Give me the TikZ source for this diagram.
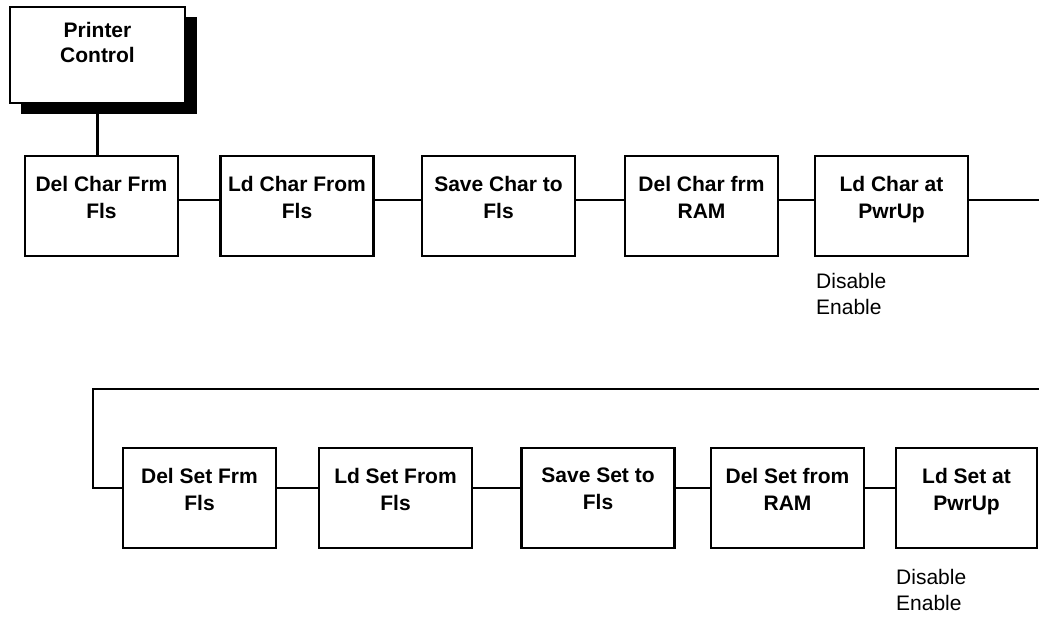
\documentclass[tikz,border=0pt]{standalone}
\usepackage{fontspec}
\setmainfont{Liberation Sans}
\begin{document}
\begin{tikzpicture}[x=1pt,y=-1pt,
  box/.style={draw=black,line width=2.8pt,fill=white,inner sep=0pt,minimum width=153pt,minimum height=100pt},
  boxtext/.style={anchor=north,inner sep=0pt,align=center,font=\fontsize{21}{27}\selectfont\bfseries},
  opttext/.style={anchor=north west,inner sep=0pt,align=left,font=\fontsize{21}{26}\selectfont},
  conn/.style={draw=black,line width=2.8pt}]
\useasboundingbox (0,0) rectangle (1039,616);
% Printer Control with shadow
\fill[black] (21,17) rectangle (197,114);
\node[box,minimum width=175pt,minimum height=96pt] (pc) at (97.5,55) {};
\node[boxtext,font=\fontsize{21}{25}\selectfont\bfseries] (pct) at (97.5,22) {Printer\\Control};
% Row 1
\node[box] (a1) at (101.5,206) {};
\node[box] (a2) at (297,206) {};
\node[box] (a3) at (498.5,206) {};
\node[box] (a4) at (701.5,206) {};
\node[box] (a5) at (891.5,206) {};
\node[boxtext] (a1t) at (a1.center |- 0,176) {Del Char Frm\\Fls};
\node[boxtext] (a2t) at (a2.center |- 0,176) {Ld Char From\\Fls};
\node[boxtext] (a3t) at (a3.center |- 0,176) {Save Char to\\Fls};
\node[boxtext] (a4t) at (a4.center |- 0,176) {Del Char frm\\RAM};
\node[boxtext] (a5t) at (a5.center |- 0,176) {Ld Char at\\PwrUp};
\node[opttext] (a5o) at (816,273) {Disable\\Enable};
% Row 2
\node[box] (b1) at (199.5,498) {};
\node[box] (b2) at (395.5,498) {};
\node[box] (b3) at (598,498) {};
\node[box] (b4) at (787.5,498) {};
\node[box,minimum width=141pt] (b5) at (966.5,498) {};
\node[boxtext] (b1t) at (b1.center |- 0,468) {Del Set Frm\\Fls};
\node[boxtext] (b2t) at (b2.center |- 0,468) {Ld Set From\\Fls};
\node[boxtext] (b3t) at (b3.center |- 0,468) {Save Set to\\Fls};
\node[boxtext] (b4t) at (b4.center |- 0,468) {Del Set from\\RAM};
\node[boxtext] (b5t) at (b5.center |- 0,468) {Ld Set at\\PwrUp};
\node[opttext] (b5o) at (896,569) {Disable\\Enable};
% connectors
\coordinate (r1end) at (1039,200);
\coordinate (r2start) at (1039,389);
\draw[conn] (pc.south) -- (pc.south |- a1.north);
\draw[conn] (a1.east |- 0,200) -- (a2.west |- 0,200);
\draw[conn] (a2.east |- 0,200) -- (a3.west |- 0,200);
\draw[conn] (a3.east |- 0,200) -- (a4.west |- 0,200);
\draw[conn] (a4.east |- 0,200) -- (a5.west |- 0,200);
\draw[conn] (a5.east |- 0,200) -- (r1end);
\draw[conn] (r2start) -- (93,389) -- (93,488) -- (b1.west |- 0,488);
\draw[conn] (b1.east |- 0,488) -- (b2.west |- 0,488);
\draw[conn] (b2.east |- 0,488) -- (b3.west |- 0,488);
\draw[conn] (b3.east |- 0,488) -- (b4.west |- 0,488);
\draw[conn] (b4.east |- 0,488) -- (b5.west |- 0,488);
\end{tikzpicture}
\end{document}
